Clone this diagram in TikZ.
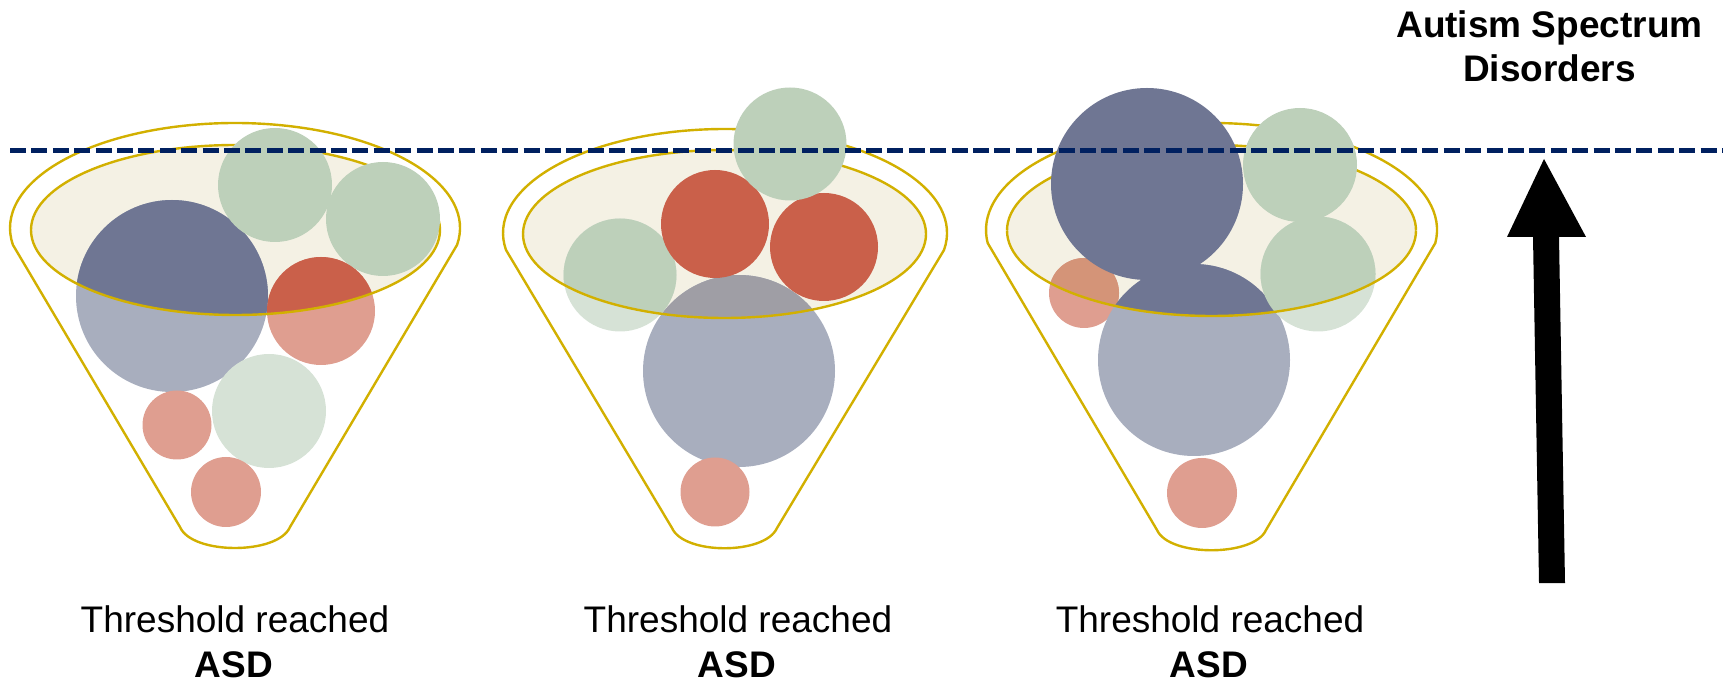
\documentclass[tikz,border=0pt]{standalone}
\usepackage{fontspec}
\setmainfont{Liberation Sans}
\definecolor{gold}{HTML}{D2B000}
\definecolor{beige}{HTML}{F4F1E4}
\definecolor{navyD}{HTML}{6F7693}
\definecolor{navyL}{HTML}{A8AEBE}
\definecolor{navyG}{HTML}{9F9EA5}
\definecolor{greenD}{HTML}{BDD0BA}
\definecolor{greenL}{HTML}{D6E2D6}
\definecolor{redD}{HTML}{CA604A}
\definecolor{redM}{HTML}{D49478}
\definecolor{redL}{HTML}{DF9E90}
\definecolor{dashc}{HTML}{002060}
\newcommand\upperclip[4]{%
  \clip (#1-#3-300,#2) -- (#1-#3,#2) arc[start angle=180,end angle=0,x radius=#3,y radius=#4]
    -- (#1+#3+300,#2) -- (#1+#3+300,-20) -- (#1-#3-300,-20) -- cycle;}
\begin{document}
\begin{tikzpicture}[x=0.5pt,y=-0.5pt,
  rim/.style={draw=gold,line width=1.2pt},
  lbl/.style={anchor=base,inner sep=0pt,font=\fontsize{18.5}{22}\selectfont},
  lblb/.style={lbl,font=\fontsize{18.5}{22}\selectfont\bfseries}]
\useasboundingbox (0,0) rectangle (1723,683);

% ---------- Funnel 1 ----------
\draw[rim] (235,228) ++(9.3:225 and 105) arc[start angle=9.3,end angle=-189.3,x radius=225,y radius=105]
  -- (180,527) .. controls (192,555) and (278,555) .. (290,527) -- cycle;
\fill[beige] (235.5,230) ellipse[x radius=204.5,y radius=85];
\draw[rim] (31,230) arc[start angle=180,end angle=360,x radius=204.5,y radius=85];
\fill[navyL] (172,296) circle[radius=96];
\fill[redL] (321,311) circle[radius=54];
\fill[greenL] (269,411) circle[radius=57];
\fill[redL] (177,425) circle[radius=34.5];
\fill[redL] (226,492) circle[radius=35];
\begin{scope}
  \upperclip{235.5}{230}{204.5}{85}
  \fill[navyD] (172,296) circle[radius=96];
  \fill[greenD] (275,185) circle[radius=57];
  \fill[greenD] (383,219) circle[radius=57];
  \fill[redD] (321,311) circle[radius=54];
\end{scope}
\draw[rim] (440,230) arc[start angle=0,end angle=180,x radius=204.5,y radius=85];

% ---------- Funnel 2 ----------
\draw[rim] (725,233) ++(9.4:222 and 104) arc[start angle=9.4,end angle=-189.4,x radius=222,y radius=104]
  -- (672,528) .. controls (684,555) and (765,555) .. (777,528) -- cycle;
\fill[beige] (724.5,234) ellipse[x radius=201.5,y radius=84];
\draw[rim] (523,234) arc[start angle=180,end angle=360,x radius=201.5,y radius=84];
\fill[greenL] (620,275) circle[radius=56.5];
\fill[navyL] (739,371) circle[radius=96];
\fill[redL] (715,492) circle[radius=34.5];
\begin{scope}
  \upperclip{724.5}{234}{201.5}{84}
  \fill[greenD] (620,275) circle[radius=56.5];
  \fill[navyG] (739,371) circle[radius=96];
  \fill[redD] (715,224) circle[radius=54];
  \fill[redD] (824,247) circle[radius=54];
  \fill[greenD] (790,144) circle[radius=56.5];
\end{scope}
\draw[rim] (926,234) arc[start angle=0,end angle=180,x radius=201.5,y radius=84];

% ---------- Funnel 3 ----------
\draw[rim] (1211.5,230) ++(7:225.5 and 107) arc[start angle=7,end angle=-187,x radius=225.5,y radius=107]
  -- (1157,530) .. controls (1169,557) and (1254,557) .. (1266,530) -- cycle;
\fill[beige] (1211.5,230.5) ellipse[x radius=204.5,y radius=85.5];
\draw[rim] (1007,230.5) arc[start angle=180,end angle=360,x radius=204.5,y radius=85.5];
\fill[redL] (1084,293) circle[radius=35];
\fill[navyL] (1194,360) circle[radius=96];
\fill[greenL] (1318,274) circle[radius=57.5];
\fill[redL] (1202,493) circle[radius=35];
\begin{scope}
  \upperclip{1211.5}{230.5}{204.5}{85.5}
  \fill[redM] (1084,293) circle[radius=35];
  \fill[navyD] (1194,360) circle[radius=96];
  \fill[navyD] (1147,184) circle[radius=96];
  \fill[greenD] (1300,165) circle[radius=57];
  \fill[greenD] (1318,274) circle[radius=57.5];
\end{scope}
\draw[rim] (1416,230.5) arc[start angle=0,end angle=180,x radius=204.5,y radius=85.5];

% ---------- threshold line ----------
\coordinate (dl) at (10,151);
\coordinate (dr) at (1723,151);
\draw[dashc,line width=2.5pt,dash pattern=on 8pt off 2.7pt] (dl) -- (dr);

% ---------- arrow ----------
\fill[black] (1544,159) -- (1586,237) -- (1559,237) -- (1565,583) -- (1539,583)
  -- (1533,237) -- (1507,237) -- cycle;

% ---------- texts ----------
\node[lblb] (title1) at (1549.5,38) {Autism Spectrum};
\node[lblb] (title2) at (1549.5,82) {Disorders};
\node[lbl] (t1) at (235,632) {Threshold reached};
\node[lbl] (t2) at (738,632) {Threshold reached};
\node[lbl] (t3) at (1210,632) {Threshold reached};
\node[lblb] (a1) at (234,677) {ASD};
\node[lblb] (a2) at (737,677) {ASD};
\node[lblb] (a3) at (1209,677) {ASD};
\end{tikzpicture}
\end{document}
